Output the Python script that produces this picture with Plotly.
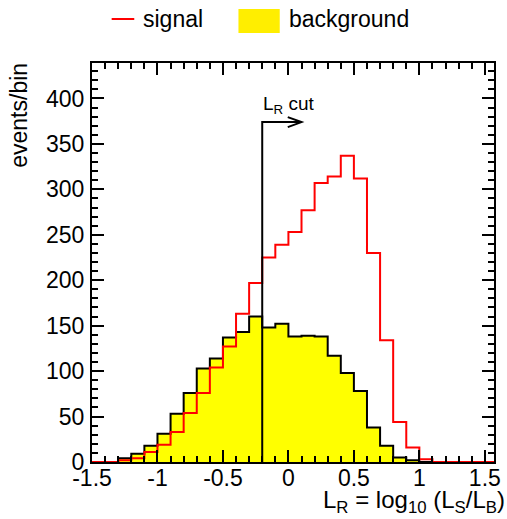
import plotly.graph_objects as go

# Histogram binning: 0.1 wide bins of L_R
bin_low = -1.5
bin_width = 0.1
n_bins = 31

# Events per bin (bins from -1.5 to 1.6)
signal_counts = [0, 0, 2, 4, 11, 19, 33, 54, 76, 104, 127, 163, 197, 225, 239,
                 253, 277, 307, 314, 337, 312, 230, 134, 44, 16, 3, 0, 0, 0, 0, 0]
background_counts = [0, 0, 4, 9, 18, 31, 53, 76, 103, 114, 137, 143, 160, 148, 152,
                     138, 139, 138, 117, 98, 78, 38, 18, 5, 2, 0, 0, 0, 0, 0, 0]

# Cut on the likelihood ratio
cut_value = -0.2
cut_arrow_height = 374
cut_arrow_length = 0.3

x_tick_vals = [-1.5, -1.0, -0.5, 0.0, 0.5, 1.0, 1.5]
x_tick_text = ["-1.5", "-1", "-0.5", "0", "0.5", "1", "1.5"]
y_tick_vals = [0, 50, 100, 150, 200, 250, 300, 350, 400]
y_tick_text = ["0", "50", "100", "150", "200", "250", "300", "350", "400"]

x_range = [-1.5, 1.57]
y_range = [0, 439]

W, H = 507, 519
M_L, M_R, M_T, M_B = 92, 6, 63, 57
PW, PH = W - M_L - M_R, H - M_T - M_B
FONT = "Liberation Sans, Arial, Helvetica, sans-serif"


def px_x(px):
    return (px - M_L) / PW


def px_y(py):
    return (H - M_B - py) / PH


edges = [round(bin_low + i * bin_width, 3) for i in range(n_bins + 1)]


def step_xy(counts):
    # left edges + closing right edge, drawn as a horizontal-first step
    xs = [edges[0]] + edges
    ys = [0] + list(counts) + [counts[-1]]
    return xs, ys


fig = go.Figure()

bx, by = step_xy(background_counts)
fig.add_trace(go.Scatter(
    x=bx, y=by, mode="lines", line_shape="hv",
    fill="tozeroy", fillcolor="#ffff00",
    line=dict(color="black", width=2), name="background", showlegend=False,
))

sx, sy = step_xy(signal_counts)
fig.add_trace(go.Scatter(
    x=sx, y=sy, mode="lines", line_shape="hv",
    line=dict(color="#ff0000", width=2), name="signal", showlegend=False,
))

# Cut marker: vertical line with an open arrow pointing to the accepted side
head_dx = 0.105
head_dy = 5.5
fig.add_shape(type="path", xref="x", yref="y",
              path=(f"M {cut_value},0 L {cut_value},{cut_arrow_height} "
                    f"L {cut_value + cut_arrow_length},{cut_arrow_height}"),
              line=dict(color="black", width=2))
tip = cut_value + cut_arrow_length
fig.add_shape(type="path", xref="x", yref="y",
              path=(f"M {tip - head_dx},{cut_arrow_height + head_dy} "
                    f"L {tip},{cut_arrow_height} "
                    f"L {tip - head_dx},{cut_arrow_height - head_dy}"),
              line=dict(color="black", width=2))
fig.add_annotation(x=cut_value, y=cut_arrow_height, xref="x", yref="y",
                   text="L<sub>R</sub> cut", showarrow=False,
                   xanchor="left", yanchor="bottom", xshift=-1, yshift=3,
                   font=dict(family=FONT, size=19, color="black"))

# Legend drawn above the frame
fig.add_shape(type="line", xref="paper", yref="paper",
              x0=px_x(112), x1=px_x(135), y0=px_y(19), y1=px_y(19),
              line=dict(color="#ff0000", width=2))
fig.add_annotation(x=px_x(142), y=px_y(19), xref="paper", yref="paper",
                   text="signal", showarrow=False, xanchor="left", yanchor="middle",
                   font=dict(family=FONT, size=23, color="black"))
fig.add_shape(type="rect", xref="paper", yref="paper",
              x0=px_x(241), x1=px_x(283), y0=px_y(33), y1=px_y(9),
              fillcolor="#ffee00", line=dict(width=0))
fig.add_annotation(x=px_x(290), y=px_y(19), xref="paper", yref="paper",
                   text="background", showarrow=False, xanchor="left", yanchor="middle",
                   font=dict(family=FONT, size=23, color="black"))

# Axis titles
fig.add_annotation(x=px_x(514), y=px_y(484), xref="paper", yref="paper",
                   text="L<sub>R</sub> = log<sub>10</sub> (L<sub>S</sub>/L<sub>B</sub>)",
                   showarrow=False, xanchor="right", yanchor="top",
                   font=dict(family=FONT, size=24, color="black"))
fig.add_annotation(x=px_x(18), y=px_y(61), xref="paper", yref="paper",
                   text="events/bin", textangle=-90, showarrow=False,
                   xanchor="center", yanchor="top",
                   font=dict(family=FONT, size=23, color="black"))

axis_common = dict(
    showline=True, linecolor="black", linewidth=2, mirror="ticks",
    ticks="inside", ticklen=12, tickwidth=1.5, tickcolor="black",
    showgrid=False, zeroline=False,
    tickfont=dict(family=FONT, size=23, color="black"),
)

fig.update_xaxes(range=x_range, tickvals=x_tick_vals, ticktext=x_tick_text,
                 minor=dict(dtick=bin_width, tick0=bin_low, ticks="inside",
                            ticklen=6, tickwidth=1.5, tickcolor="black", showgrid=False),
                 ticklabelstandoff=-6, **axis_common)
fig.update_yaxes(range=y_range, tickvals=y_tick_vals, ticktext=y_tick_text,
                 minor=dict(dtick=10, tick0=0, ticks="inside",
                            ticklen=6, tickwidth=1.5, tickcolor="black", showgrid=False),
                 ticklabelstandoff=1, **axis_common)

fig.update_layout(
    width=W, height=H,
    margin=dict(l=M_L, r=M_R, t=M_T, b=M_B, pad=0),
    paper_bgcolor="white", plot_bgcolor="white",
    showlegend=False,
)

fig.write_html("out.html")
